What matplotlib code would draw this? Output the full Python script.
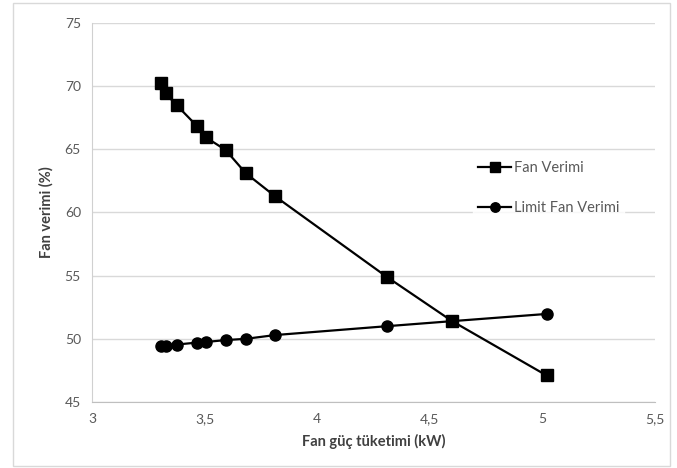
import matplotlib
matplotlib.use("Agg")
import matplotlib.pyplot as plt
from matplotlib.patches import Rectangle
from matplotlib.ticker import FuncFormatter

power_kw = [3.307, 3.327, 3.377, 3.465, 3.505, 3.593, 3.683, 3.814, 4.31, 4.60, 5.02]
fan_eff = [70.26, 69.42, 68.47, 66.86, 65.95, 64.95, 63.11, 61.27, 54.9, 51.4, 47.1]
limit_eff = [49.4, 49.4, 49.55, 49.7, 49.75, 49.9, 50.0, 50.3, 51.0, 51.4, 51.97]
x_ticks = [3, 3.5, 4, 4.5, 5, 5.5]
y_ticks = [45, 50, 55, 60, 65, 70, 75]
series_names = ["Fan Verimi", "Limit Fan Verimi"]

plt.rcParams['font.family'] = ['Lato', 'DejaVu Sans']

fig = plt.figure(figsize=(6.77, 4.68), dpi=100)
ax = fig.add_axes([0.136, 0.141, 0.831, 0.81])

fig.patches.append(Rectangle((0.019, 0.004), 0.971, 0.99, transform=fig.transFigure,
                             fill=False, edgecolor='#d9d9d9', linewidth=1.0))

ax.plot(power_kw, fan_eff, color='black', marker='s', markersize=8, linewidth=1.6,
        label=series_names[0])
ax.plot(power_kw, limit_eff, color='black', marker='o', markersize=8, linewidth=1.6,
        label=series_names[1])

ax.set_xlim(3, 5.5)
ax.set_ylim(45, 75)
ax.set_xticks(x_ticks)
ax.set_yticks(y_ticks)
ax.xaxis.set_major_formatter(FuncFormatter(lambda v, p: ('%g' % v).replace('.', ',')))
ax.tick_params(length=0, labelsize=10, labelcolor='#595959', pad=8)
ax.grid(axis='y', color='#d9d9d9', linewidth=1.0)
ax.set_axisbelow(True)
for s in ['top', 'right']:
    ax.spines[s].set_visible(False)
ax.spines['left'].set_color('#d0d0d0')
ax.spines['bottom'].set_color('#bfbfbf')

ax.set_xlabel('Fan güç tüketimi (kW)', fontsize=10.5, fontweight='bold', color='#404040', labelpad=6)
ax.set_ylabel('Fan verimi (%)', fontsize=10.5, fontweight='bold', color='#404040', labelpad=8)

leg = ax.legend(loc='upper left', bbox_to_anchor=(0.665, 0.666), frameon=True, fontsize=10.5,
                handlelength=2.3, handletextpad=0.2, labelspacing=1.75, borderpad=0.3,
                markerscale=0.85)
leg.get_frame().set_facecolor('white')
leg.get_frame().set_edgecolor('white')
for t in leg.get_texts():
    t.set_color('#595959')

fig.savefig('out.png', dpi=100)
